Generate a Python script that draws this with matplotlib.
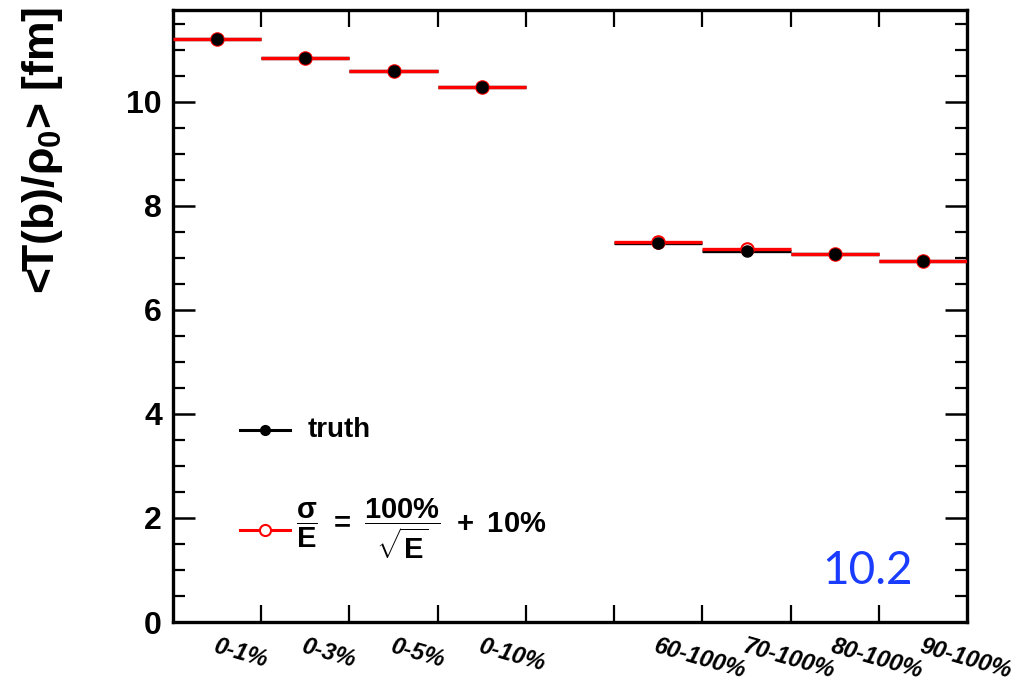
import numpy as np
import matplotlib
matplotlib.use("Agg")
import matplotlib.pyplot as plt
from matplotlib.ticker import MultipleLocator, FixedLocator

plt.rcParams["font.family"] = ["Liberation Sans", "DejaVu Sans"]
plt.rcParams["mathtext.fontset"] = "custom"
plt.rcParams["mathtext.rm"] = "Liberation Sans:bold"
plt.rcParams["mathtext.it"] = "Liberation Sans:bold"
plt.rcParams["mathtext.bf"] = "Liberation Sans:bold"

# ============ 数据 ============
bin_labels = ["0-1%", "0-3%", "0-5%", "0-10%", "",
              "60-100%", "70-100%", "80-100%", "90-100%"]
truth = [11.21, 10.84, 10.60, 10.28, np.nan, 7.28, 7.13, 7.07, 6.94]
smeared = [11.21, 10.84, 10.60, 10.28, np.nan, 7.30, 7.18, 7.07, 6.94]

n_bins = len(bin_labels)
edges = np.arange(n_bins + 1)
centers = edges[:-1] + 0.5

fig = plt.figure(figsize=(10.29, 6.87), dpi=100)
ax = fig.add_axes([0.168, 0.0946, 0.772, 0.891])

t = np.array(truth)
s = np.array(smeared)
ok = ~np.isnan(t)

# 水平误差线（bin 宽度）
ax.hlines(t[ok], edges[:-1][ok], edges[1:][ok], color="black", lw=2.4, zorder=2)
ax.hlines(s[ok], edges[:-1][ok], edges[1:][ok], color="#ff0000", lw=2.4, zorder=3)
ax.plot(centers[ok], s[ok], "o", ms=9, mfc="none", mec="#ff0000", mew=1.5, zorder=4)
ax.plot(centers[ok], t[ok], "o", ms=8, color="black", zorder=5)

ax.set_xlim(0, n_bins)
ax.set_ylim(0, 11.77)

# 刻度
ax.xaxis.set_major_locator(FixedLocator(edges[1:-1]))
ax.xaxis.set_minor_locator(FixedLocator(centers))
ax.set_xticklabels([], minor=False)
ax.set_xticklabels(bin_labels, minor=True, rotation=-16, ha="left", va="top",
                   rotation_mode="anchor", fontsize=17, fontweight="bold",
                   fontstyle="italic")
ax.tick_params(axis="x", which="major", direction="in", length=12, width=1.6,
               top=True, bottom=True)
ax.tick_params(axis="x", which="minor", length=0, pad=9)

ax.yaxis.set_major_locator(MultipleLocator(2))
ax.yaxis.set_minor_locator(MultipleLocator(0.5))
ax.tick_params(axis="y", which="major", direction="in", length=16, width=1.8,
               left=True, right=True, labelsize=23, pad=8)
ax.tick_params(axis="y", which="minor", direction="in", length=8.5, width=1.6,
               left=True, right=True)
for lab in ax.get_yticklabels():
    lab.set_fontweight("bold")

for sp in ax.spines.values():
    sp.set_linewidth(2.4)

# Y 轴标题
fig.text(0.041, 0.99, r"<T(b)/$\rho_{0}$> [fm]", rotation=90, ha="center",
         va="top", fontsize=32, fontweight="bold")

# 图例（手动）
ax.plot([0.76, 1.33], [3.69, 3.69], color="black", lw=2.2)
ax.plot([1.045], [3.69], "o", ms=7, color="black")
ax.text(1.53, 3.69, "truth", fontsize=20, fontweight="bold", va="center")

ax.plot([0.76, 1.33], [1.77, 1.77], color="#ff0000", lw=2.2)
ax.plot([1.045], [1.77], "o", ms=8, mfc="white", mec="#ff0000", mew=1.5)
ax.text(1.40, 1.77,
        r"$\dfrac{\sigma}{E}\ =\ \dfrac{100\%}{\sqrt{E}}\ +\ 10\%$",
        fontsize=21, va="center")

# 蓝色标注
fig.text(0.8435, 1 - 571 / 687, "10.2", color="#1a3cff", fontsize=33,
         ha="center", va="center", family="Lato")

fig.savefig("out.png", dpi=100, facecolor="white")
